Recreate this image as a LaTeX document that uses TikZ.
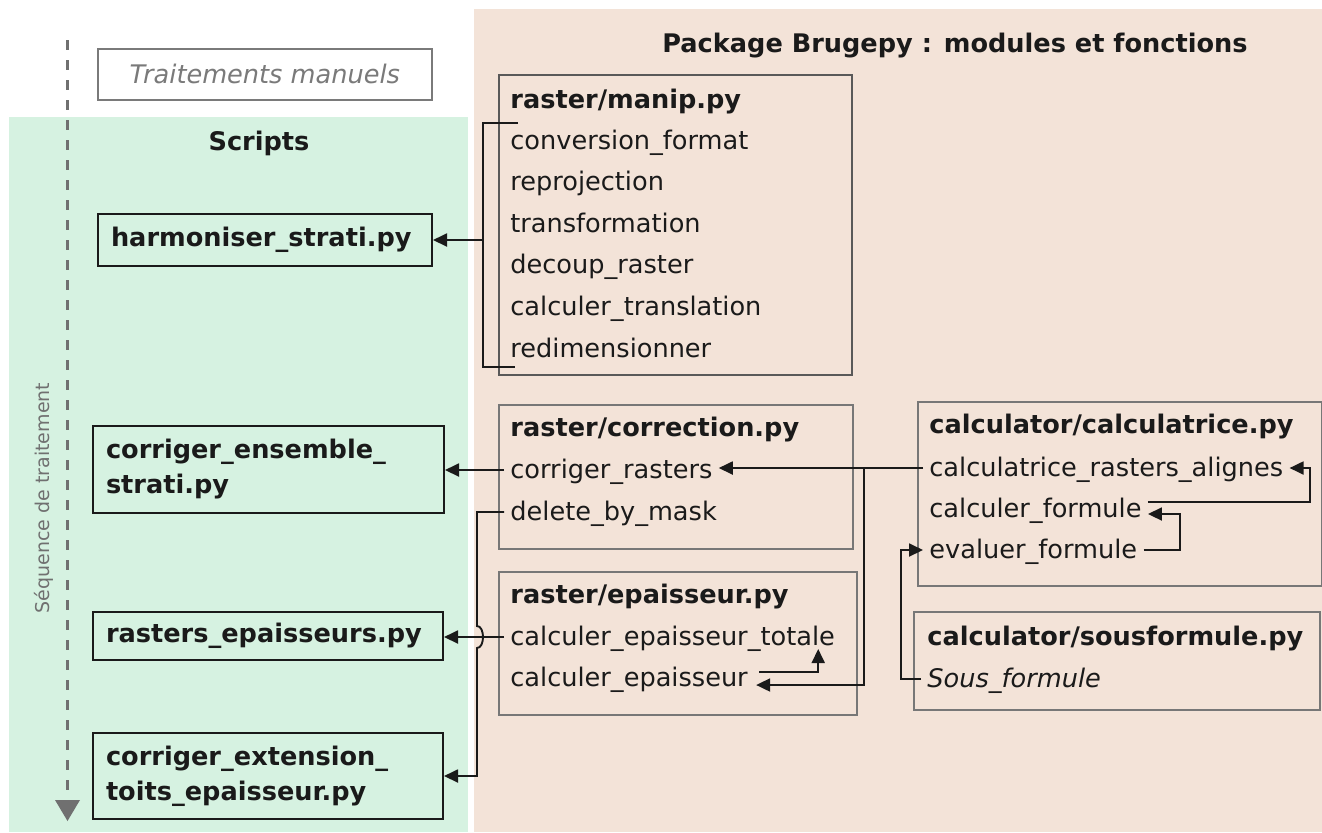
\documentclass[tikz,border=0pt]{standalone}
\usepackage{fontspec}
\setmainfont{DejaVu Sans}
\usetikzlibrary{arrows.meta,calc}

\definecolor{scriptbg}{HTML}{D6F2E1}
\definecolor{pkgbg}{HTML}{F3E3D8}
\definecolor{ink}{HTML}{1A1A1A}
\definecolor{modframe}{HTML}{777777}
\definecolor{manualgray}{HTML}{7A7A7A}
\definecolor{seqgray}{HTML}{707070}

\newcommand\txtfont{\fontsize{12.8}{17.5}\selectfont}

\begin{document}
\begin{tikzpicture}[x=0.5pt,y=-0.5pt,
  txt/.style={font=\txtfont, text=ink},
  item/.style={txt, anchor=base west, inner xsep=3pt, inner ysep=0pt, text height=8pt, text depth=0pt},
  modtitle/.style={item, font=\txtfont\bfseries},
  modbox/.style={draw=modframe, line width=0.75pt, anchor=north west, inner sep=0pt},
  scriptbox/.style={draw=ink, line width=1pt, txt, font=\txtfont\bfseries, align=left,
                    inner xsep=6.5pt, anchor=north west},
  link/.style={draw=ink, line width=0.95pt},
  tip/.style={-{Triangle[length=7pt,width=6.5pt]}}
]
\useasboundingbox (0,0) rectangle (1322,832);
\fill[white] (0,0) rectangle (1322,832);

% backgrounds of the two areas
\fill[pkgbg] (474,9) rectangle (1322,832);
\fill[scriptbg] (9,117) rectangle (468,832);

% processing sequence
\coordinate (seqtop) at (67,40);
\coordinate (seqend) at (67,796);
\draw[seqgray, line width=1.5pt, dash pattern=on 5pt off 5pt] (seqtop) -- (seqend);
\fill[seqgray] (55,800) -- (80,800) -- (67.5,821) -- cycle;
\node[rotate=90, font=\fontsize{9.5}{11}\selectfont, text=seqgray] (seq) at (44,498) {Séquence de traitement};

% titles
\node[txt, font=\txtfont\bfseries, anchor=base] (pkgtitle) at (955,52) {Package Brugepy : modules et fonctions};
\node[txt, font=\txtfont\bfseries, anchor=base] (scripts) at (259,150) {Scripts};

% manual processing
\node[draw=manualgray, line width=0.75pt, anchor=north west, minimum width=167pt, minimum height=25.5pt,
      font=\txtfont\itshape, text=manualgray] (manual) at (97,48) {Traitements manuels};

% scripts
\node[scriptbox, minimum height=26pt, text width=154pt] (harm) at (97,213) {harmoniser\_strati.py};
\node[scriptbox, minimum height=43.5pt, text width=162.5pt] (ens) at (92,425) {corriger\_ensemble\_\\strati.py};
\node[scriptbox, minimum height=24pt, text width=162pt] (rep) at (92,611) {rasters\_epaisseurs.py};
\node[scriptbox, minimum height=43pt, text width=162pt] (ext) at (92,732) {corriger\_extension\_\\toits\_epaisseur.py};

% module frames
\node[modbox, draw=black!65, minimum width=176.5pt, minimum height=150pt] (manipbox) at (498,74) {};
\node[modbox, minimum width=177pt, minimum height=72pt] (corrbox) at (498,404) {};
\node[modbox, minimum width=179pt, minimum height=71.5pt] (epbox) at (498,571) {};
\node[modbox, minimum width=202pt, minimum height=92pt] (calcbox) at (917,401) {};
\node[modbox, minimum width=203pt, minimum height=49pt] (sousbox) at (913,611) {};

% raster/manip.py
\node[modtitle] (manip) at (504,108) {raster/manip.py};
\node[item] (conv)  at (504,149)   {conversion\_format};
\node[item] (reproj) at (504,190.6) {reprojection};
\node[item] (transf) at (504,232.2) {transformation};
\node[item] (decoup) at (504,273.8) {decoup\_raster};
\node[item] (transl) at (504,315.4) {calculer\_translation};
\node[item] (redim)  at (504,357)   {redimensionner};

% raster/correction.py
\node[modtitle] (corr) at (504,436.5) {raster/correction.py};
\node[item] (cr)  at (504,478) {corriger\_rasters};
\node[item] (dbm) at (504,520) {delete\_by\_mask};

% raster/epaisseur.py
\node[modtitle] (ep) at (504,603) {raster/epaisseur.py};
\node[item] (tot) at (504,645) {calculer\_epaisseur\_totale};
\node[item] (cep) at (504,686) {calculer\_epaisseur};

% calculator/calculatrice.py
\node[modtitle] (calc) at (923,433) {calculator/calculatrice.py};
\node[item] (cra) at (923,476) {calculatrice\_rasters\_alignes};
\node[item] (cf)  at (923,517) {calculer\_formule};
\node[item] (ef)  at (923,558) {evaluer\_formule};

% calculator/sousformule.py
\node[modtitle] (sous) at (921,645) {calculator/sousformule.py};
\node[item, font=\txtfont\itshape] (sf) at (921,687) {Sous\_formule};

% bracket gathering the manip functions
\coordinate (spine) at (483,0);
\coordinate (brtop) at (518,123);
\coordinate (brbot) at (515,367);
\draw[link] (brtop) -- (brtop -| spine) -- (brbot -| spine) -- (brbot);
\draw[link,tip] (harm.east -| spine) -- (harm.east);

% correction functions towards the scripts
\draw[link,tip] (cr.west) -- (cr.west -| ens.east);
\coordinate (drop) at (477,0);
\draw[link,tip] (dbm.west) -- (dbm.west -| drop)
  -- ($(tot.west -| drop)+(0,-11)$) .. controls +(8,0) and +(8,0) .. ($(tot.west -| drop)+(0,11)$)
  -- (ext.east -| drop) -- (ext.east);

% thickness functions
\draw[link,tip] (tot.west) -- (tot.west -| rep.east);
\draw[link,tip] ($(cep.east)+(5,-6)$) -| ($(tot.base east)+(-23,4)$);

% calculator calls
\coordinate (fork) at (864,0);
\draw[link,tip] (cra.west) -- (cra.west -| cr.east);
\draw[link,tip] (cra.west -| fork) |- ($(cep.east)+(2,7)$);
\coordinate (loopA) at ($(cra.east)+(20,0)$);
\draw[link,tip] ($(cf.east)+(0,-7)$) -| (loopA) -- (cra.east);
\coordinate (loopB) at ($(cf.east)+(32,5)$);
\draw[link,tip] (ef.east) -| (loopB) -- ($(cf.east)+(0,5)$);
\coordinate (loopC) at ($(ef.west)+(-22,0)$);
\draw[link,tip] (sf.west) -| (loopC) -- (ef.west);
\end{tikzpicture}
\end{document}
